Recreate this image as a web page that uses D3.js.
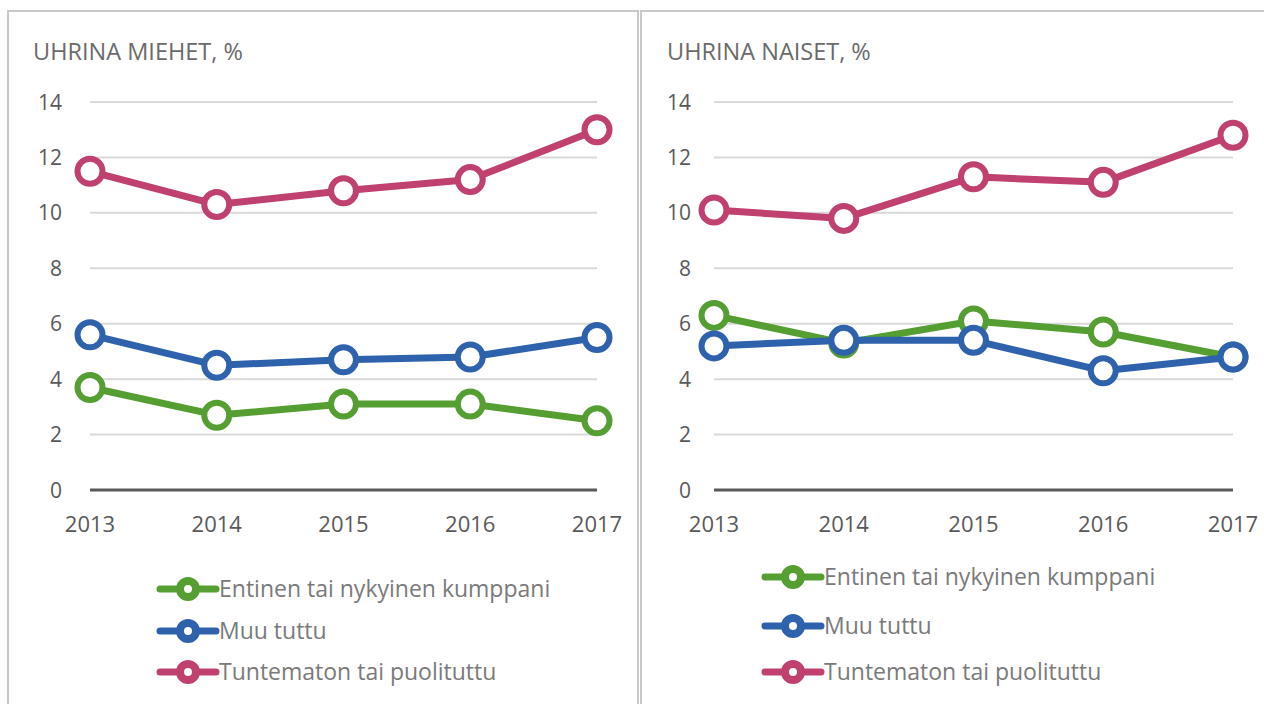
<!DOCTYPE html>
<html>
<head>
<meta charset="utf-8">
<script src="https://cdn.jsdelivr.net/npm/d3@7"></script>
<style>
  body { margin: 0; background: #fff; }
  text { font-family: "Open Sans", "Liberation Sans", sans-serif; }
</style>
</head>
<body>
<div id="chart"></div>
<script>
// --- DATA ---
var years = [2013, 2014, 2015, 2016, 2017];
var yTicks = [0, 2, 4, 6, 8, 10, 12, 14];
var seriesNames = ["Entinen tai nykyinen kumppani", "Muu tuttu", "Tuntematon tai puolituttu"];
var seriesColors = ["#559E32", "#2F62AD", "#C0406F"];

var menPartner = [3.7, 2.7, 3.1, 3.1, 2.5];
var menKnown = [5.6, 4.5, 4.7, 4.8, 5.5];
var menStranger = [11.5, 10.3, 10.8, 11.2, 13.0];

var womenPartner = [6.3, 5.3, 6.1, 5.7, 4.8];
var womenKnown = [5.2, 5.4, 5.4, 4.3, 4.8];
var womenStranger = [10.1, 9.8, 11.3, 11.1, 12.8];

// --- SETUP ---
var width = 1264, height = 704;
var svg = d3.select("#chart").append("svg")
  .attr("width", width).attr("height", height);

var panels = [
  { title: "UHRINA MIEHET, %", box: [8, 11, 630], titleX: 33, x0: 90, x1: 597, labelX: 62,
    series: [menPartner, menKnown, menStranger], legX: 158, legY: [589, 631, 672] },
  { title: "UHRINA NAISET, %", box: [641, 11, 640], titleX: 667, x0: 714, x1: 1233, labelX: 691,
    series: [womenPartner, womenKnown, womenStranger], legX: 763, legY: [577, 626, 672] }
];

var y = d3.scaleLinear().domain([0, 14]).range([490, 102]);

panels.forEach(function(p) {
  var g = svg.append("g");

  // panel border
  g.append("rect")
    .attr("x", p.box[0]).attr("y", p.box[1])
    .attr("width", p.box[2]).attr("height", height)
    .attr("fill", "none").attr("stroke", "#c9c9c9").attr("stroke-width", 2);

  g.append("text")
    .attr("x", p.titleX).attr("y", 60)
    .attr("font-size", 23.5).attr("fill", "#6a6a6a")
    .text(p.title);

  var x = d3.scalePoint().domain(years).range([p.x0, p.x1]);

  // gridlines
  g.selectAll(".grid").data(yTicks.filter(function(t) { return t > 0; }))
    .enter().append("line")
    .attr("x1", p.x0).attr("x2", p.x1)
    .attr("y1", function(d) { return y(d); }).attr("y2", function(d) { return y(d); })
    .attr("stroke", "#d9d9d9").attr("stroke-width", 2);

  g.append("line")
    .attr("x1", p.x0).attr("x2", p.x1)
    .attr("y1", y(0)).attr("y2", y(0))
    .attr("stroke", "#595959").attr("stroke-width", 3);

  // y labels
  g.selectAll(".ylab").data(yTicks).enter().append("text")
    .attr("x", p.labelX).attr("y", function(d) { return y(d); })
    .attr("dy", "0.36em").attr("text-anchor", "end")
    .attr("font-size", 21).attr("fill", "#595959")
    .text(function(d) { return d; });

  // x labels
  g.selectAll(".xlab").data(years).enter().append("text")
    .attr("x", function(d) { return x(d); }).attr("y", 532)
    .attr("text-anchor", "middle")
    .attr("font-size", 22).attr("fill", "#595959")
    .text(function(d) { return d; });

  var line = d3.line()
    .x(function(d, i) { return x(years[i]); })
    .y(function(d) { return y(d); });

  p.series.forEach(function(vals, si) {
    var color = seriesColors[si];
    g.append("path").datum(vals)
      .attr("d", line)
      .attr("fill", "none").attr("stroke", color)
      .attr("stroke-width", 7).attr("stroke-linejoin", "round");
    g.selectAll(".pt" + si).data(vals).enter().append("circle")
      .attr("cx", function(d, i) { return x(years[i]); })
      .attr("cy", function(d) { return y(d); })
      .attr("r", 12.5)
      .attr("fill", "#fff").attr("stroke", color).attr("stroke-width", 6);
  });

  // legend
  seriesNames.forEach(function(name, si) {
    var ly = p.legY[si], color = seriesColors[si];
    g.append("line")
      .attr("x1", p.legX + 2).attr("x2", p.legX + 58)
      .attr("y1", ly).attr("y2", ly)
      .attr("stroke", color).attr("stroke-width", 7).attr("stroke-linecap", "round");
    g.append("circle")
      .attr("cx", p.legX + 30).attr("cy", ly).attr("r", 8)
      .attr("fill", "#fff").attr("stroke", color).attr("stroke-width", 8);
    g.append("text")
      .attr("x", p.legX + 61).attr("y", ly).attr("dy", "0.36em")
      .attr("font-size", 23).attr("fill", "#7a7a7a")
      .text(name);
  });
});
</script>
</body>
</html>
